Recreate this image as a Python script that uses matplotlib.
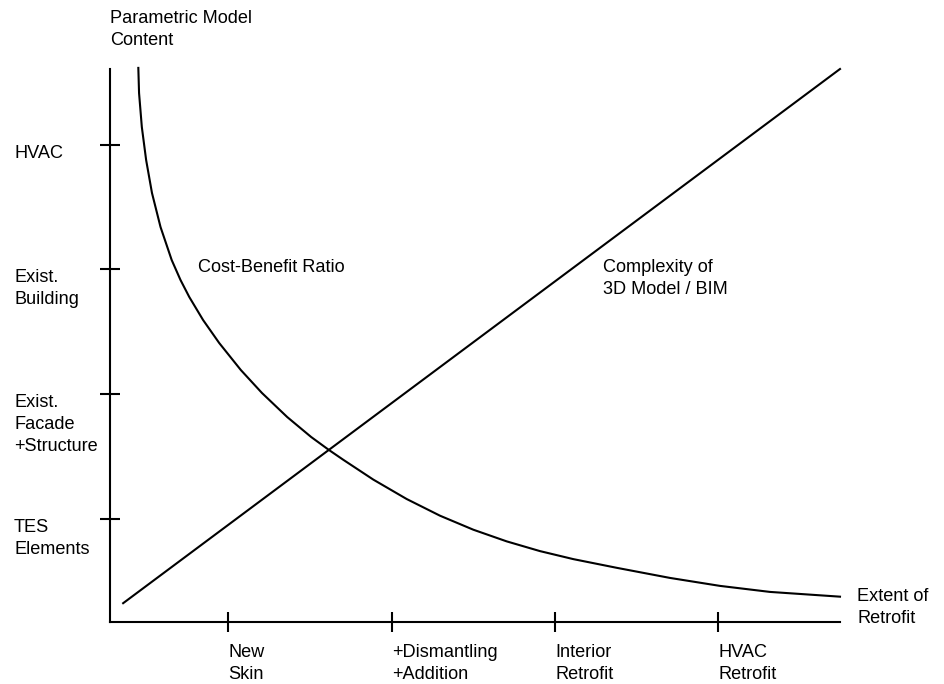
import matplotlib
matplotlib.use("Agg")
import matplotlib.pyplot as plt

plt.rcParams["font.family"] = ["Liberation Sans", "DejaVu Sans"]

# conceptual scale 0..100 on both axes
x_ticks = [16.2, 38.6, 61.0, 83.3]
x_labels = ["New\nSkin", "+Dismantling\n+Addition", "Interior\nRetrofit", "HVAC\nRetrofit"]
y_ticks = [18.6, 41.2, 63.8, 86.3]
y_labels = ["TES\nElements", "Exist.\nFacade\n+Structure", "Exist.\nBuilding", "HVAC"]

# complexity of 3D model / BIM (straight line)
complexity_x = [1.8, 100.0]
complexity_y = [3.4, 100.0]

# cost-benefit ratio
cost_x = [3.88, 3.98, 4.36, 4.95, 5.75, 6.92, 8.45, 9.66, 10.86, 12.75, 14.96, 17.92,
          20.82, 24.27, 27.56, 30.0, 31.96, 36.07, 40.64, 45.21, 49.77, 54.34, 58.9,
          63.47, 69.41, 76.71, 83.56, 90.41, 100.0]
cost_y = [100.2, 95.66, 89.51, 83.54, 77.58, 71.43, 65.46, 61.84, 58.77, 54.61, 50.45, 45.57,
          41.41, 37.07, 33.45, 31.1, 29.33, 25.75, 22.24, 19.22, 16.69, 14.58, 12.82,
          11.37, 9.80, 7.97, 6.53, 5.44, 4.58]

fig = plt.figure(figsize=(9.45, 6.84), dpi=100)
ax = fig.add_axes([110 / 945, 62 / 684, 730 / 945, 553 / 684])
ax.set_xlim(0, 100)
ax.set_ylim(0, 100)

lw = 1.5
ax.plot(complexity_x, complexity_y, color="black", lw=lw, clip_on=False)
ax.plot(cost_x, cost_y, color="black", lw=lw, clip_on=False,
        solid_joinstyle="round")

for s in ["top", "right"]:
    ax.spines[s].set_visible(False)
for s in ["left", "bottom"]:
    ax.spines[s].set_linewidth(lw)

ax.set_xticks(x_ticks)
ax.set_yticks(y_ticks)
ax.set_xticklabels([])
ax.set_yticklabels([])
ax.tick_params(direction="inout", length=14.4, width=lw)

fs = 13.1
ls = 1.36
for xt, lab in zip(x_ticks, x_labels):
    ax.text(xt, -0.04, lab, transform=ax.get_xaxis_transform(), ha="left", va="top",
            fontsize=fs, linespacing=ls)
for yt, lab in zip(y_ticks, y_labels):
    ax.text(-0.1315, yt, lab, transform=ax.get_yaxis_transform(), ha="left", va="top",
            fontsize=fs, linespacing=ls)

ax.text(0, 1.107, "Parametric Model\nContent", transform=ax.transAxes, ha="left", va="top",
        fontsize=fs, linespacing=ls)
ax.text(1.0233, 0.0615, "Extent of\nRetrofit", transform=ax.transAxes, ha="left", va="top",
        fontsize=fs, linespacing=ls)
ax.text(12.05, 65.6, "Cost-Benefit Ratio", ha="left", va="top", fontsize=fs)
ax.text(67.5, 65.6, "Complexity of\n3D Model / BIM", ha="left", va="top",
        fontsize=fs, linespacing=ls)

fig.savefig("out.png", dpi=100)
